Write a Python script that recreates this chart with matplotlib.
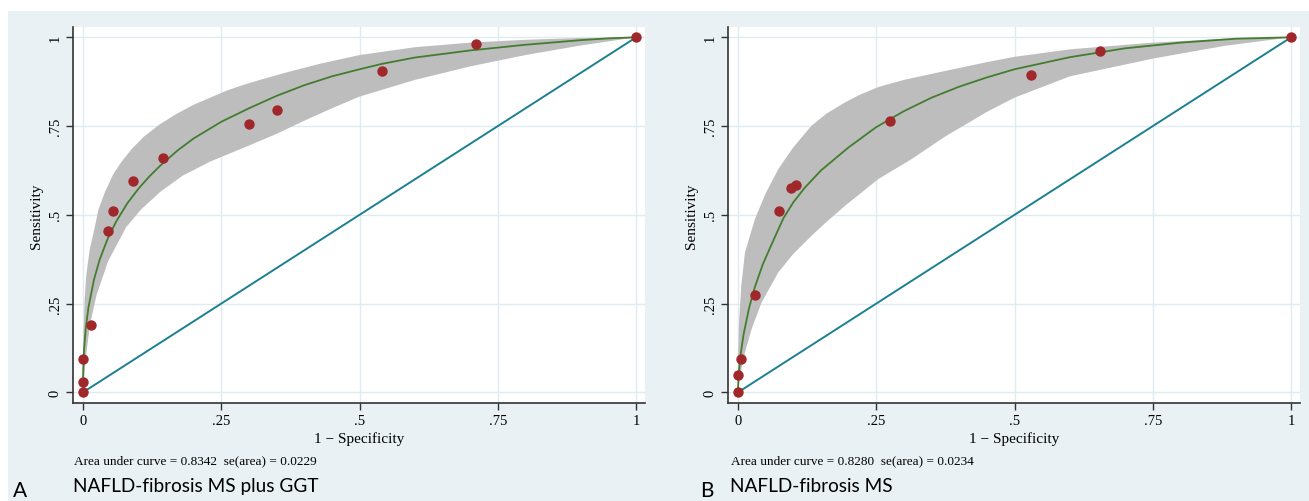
import numpy as np
import matplotlib
matplotlib.use("Agg")
import matplotlib.pyplot as plt
from matplotlib.patches import Rectangle

# ---- panel A: NAFLD-fibrosis MS plus GGT ----
a_pts_fpr = [0, 0, 0, 0.015, 0.045, 0.055, 0.09, 0.145, 0.30, 0.35, 0.54, 0.71, 1.0]
a_pts_sens = [0, 0.03, 0.095, 0.19, 0.455, 0.51, 0.595, 0.66, 0.755, 0.795, 0.905, 0.98, 1.0]

# fitted curve
a_fit_fpr = [0, 0.0005, 0.002, 0.005, 0.01, 0.02, 0.03, 0.045, 0.06, 0.08, 0.10, 0.12,
             0.14, 0.17, 0.20, 0.25, 0.30, 0.35, 0.40, 0.45, 0.50, 0.54, 0.60, 0.70,
             0.80, 0.90, 0.95, 1.0]
a_fit_sens = [0, 0.065, 0.12, 0.18, 0.24, 0.318, 0.373, 0.434, 0.481, 0.532, 0.573, 0.608,
              0.639, 0.68, 0.715, 0.762, 0.80, 0.835, 0.865, 0.89, 0.91, 0.925, 0.943, 0.963,
              0.979, 0.992, 0.997, 1.0]

# confidence band edges
a_up_fpr = [0, 0.0003, 0.001, 0.003, 0.006, 0.012, 0.022, 0.028, 0.04, 0.055, 0.07, 0.088,
            0.11, 0.139, 0.17, 0.20, 0.23, 0.26, 0.29, 0.32, 0.37, 0.43, 0.50, 0.60, 0.70,
            0.80, 0.90, 1.0]
a_up_sens = [0, 0.10, 0.17, 0.26, 0.33, 0.40, 0.47, 0.515, 0.565, 0.615, 0.65, 0.685,
             0.72, 0.755, 0.785, 0.81, 0.83, 0.85, 0.866, 0.88, 0.902, 0.926, 0.95, 0.972,
             0.985, 0.993, 0.998, 1.0]
a_lo_fpr = [0, 0.002, 0.0054, 0.0126, 0.0247, 0.0457, 0.078, 0.105, 0.14, 0.18, 0.23,
            0.30, 0.35, 0.40, 0.45, 0.50, 0.60, 0.70, 0.80, 0.90, 1.0]
a_lo_sens = [0, 0.04, 0.10, 0.19, 0.275, 0.37, 0.465, 0.515, 0.565, 0.61, 0.65,
             0.695, 0.728, 0.765, 0.80, 0.833, 0.88, 0.918, 0.95, 0.977, 1.0]

# ---- panel B: NAFLD-fibrosis MS ----
b_pts_fpr = [0, 0, 0.005, 0.03, 0.075, 0.095, 0.105, 0.275, 0.53, 0.655, 1.0]
b_pts_sens = [0, 0.05, 0.095, 0.275, 0.51, 0.575, 0.585, 0.765, 0.895, 0.96, 1.0]

b_fit_fpr = [0, 0.0003, 0.001, 0.002, 0.005, 0.01, 0.02, 0.03, 0.045, 0.06, 0.082, 0.10,
             0.12, 0.15, 0.18, 0.20, 0.25, 0.30, 0.35, 0.40, 0.45, 0.50, 0.60, 0.70,
             0.80, 0.90, 1.0]
b_fit_sens = [0, 0.018, 0.04, 0.062, 0.108, 0.162, 0.237, 0.294, 0.361, 0.414, 0.49, 0.535,
              0.575, 0.625, 0.664, 0.69, 0.747, 0.792, 0.83, 0.861, 0.887, 0.91, 0.944, 0.969,
              0.985, 0.996, 1.0]

b_up_fpr = [0, 0.0003, 0.002, 0.006, 0.0127, 0.0307, 0.05, 0.073, 0.10, 0.133, 0.16, 0.194,
            0.22, 0.254, 0.30, 0.374, 0.45, 0.50, 0.60, 0.75, 0.88, 1.0]
b_up_sens = [0, 0.10, 0.20, 0.30, 0.394, 0.488, 0.56, 0.629, 0.69, 0.751, 0.785, 0.817,
             0.838, 0.86, 0.88, 0.905, 0.93, 0.945, 0.966, 0.985, 0.996, 1.0]
b_lo_fpr = [0, 0.004, 0.0127, 0.025, 0.043, 0.073, 0.10, 0.133, 0.16, 0.194, 0.254, 0.314,
            0.374, 0.45, 0.50, 0.60, 0.75, 0.88, 1.0]
b_lo_sens = [0, 0.05, 0.113, 0.18, 0.254, 0.338, 0.39, 0.441, 0.48, 0.526, 0.601, 0.657,
             0.72, 0.79, 0.83, 0.89, 0.94, 0.976, 1.0]

ticks = [0, 0.25, 0.5, 0.75, 1]
tick_labels = ["0", ".25", ".5", ".75", "1"]

panels = [
    dict(pts=(a_pts_fpr, a_pts_sens), fit=(a_fit_fpr, a_fit_sens),
         up=(a_up_fpr, a_up_sens), lo=(a_lo_fpr, a_lo_sens),
         auc="Area under curve = 0.8342  se(area) = 0.0229",
         letter="A", title="NAFLD-fibrosis MS plus GGT"),
    dict(pts=(b_pts_fpr, b_pts_sens), fit=(b_fit_fpr, b_fit_sens),
         up=(b_up_fpr, b_up_sens), lo=(b_lo_fpr, b_lo_sens),
         auc="Area under curve = 0.8280  se(area) = 0.0234",
         letter="B", title="NAFLD-fibrosis MS"),
]

W, H = 1309, 502
fig = plt.figure(figsize=(W / 100, H / 100), dpi=100, facecolor="white")
bg = Rectangle((8 / W, 0), 1 - 8 / W, 1 - 12 / H, transform=fig.transFigure,
               facecolor="#e9f1f4", edgecolor="none", zorder=-10)
fig.patches.append(bg)

serif = "Liberation Serif"
lefts = [73, 728]
letter_x = [13, 700]
text_x = [74, 731]

for i, p in enumerate(panels):
    ax = fig.add_axes([lefts[i] / W, 1 - 404 / H, 572 / W, 376 / H])
    ax.set_facecolor("white")
    ax.set_xlim(-0.018, 1.016)
    ax.set_ylim(-0.03, 1.029)

    ax.set_xticks(ticks)
    ax.set_xticklabels(tick_labels, fontfamily=serif, fontsize=10.5)
    ax.set_yticks(ticks)
    ax.set_yticklabels(tick_labels, fontfamily=serif, fontsize=10.5, rotation=90, va="center")
    ax.tick_params(direction="out", length=5, width=1, color="#333333", pad=3)
    ax.grid(True, color="#e0ebf1", lw=1)
    ax.set_axisbelow(True)
    for s in ["top", "right"]:
        ax.spines[s].set_visible(False)
    for s in ["left", "bottom"]:
        ax.spines[s].set_color("#333333")
        ax.spines[s].set_linewidth(1.2)

    up_x, up_y = p["up"]
    lo_x, lo_y = p["lo"]
    ax.fill(np.concatenate([up_x, lo_x[::-1]]), np.concatenate([up_y, lo_y[::-1]]),
            color="#bdbdbd", lw=0, zorder=2)
    ax.plot([0, 1], [0, 1], color="#1b8090", lw=1.4, zorder=3)
    ax.plot(p["fit"][0], p["fit"][1], color="#437d30", lw=1.3, zorder=4,
            solid_joinstyle="round")
    ax.plot(p["pts"][0], p["pts"][1], "o", color="#a0282b", ms=7.5, mec="none", zorder=5,
            clip_on=False)

    ax.set_xlabel("1 \u2212 Specificity", fontfamily=serif, fontsize=11, labelpad=3)
    ax.set_ylabel("Sensitivity", fontfamily=serif, fontsize=11, labelpad=4)

    fig.text(text_x[i] / W, 1 - 461 / H, p["auc"], fontfamily=serif, fontsize=9.5,
             va="center", ha="left")
    fig.text(letter_x[i] / W, 1 - 491 / H, p["letter"], fontfamily="Lato", fontsize=15,
             va="center", ha="left")
    fig.text(text_x[i] / W - 0.001, 1 - 487 / H, p["title"], fontfamily="Lato", fontsize=13.7,
             va="center", ha="left")

fig.savefig("out.png", dpi=100, facecolor=fig.get_facecolor())
